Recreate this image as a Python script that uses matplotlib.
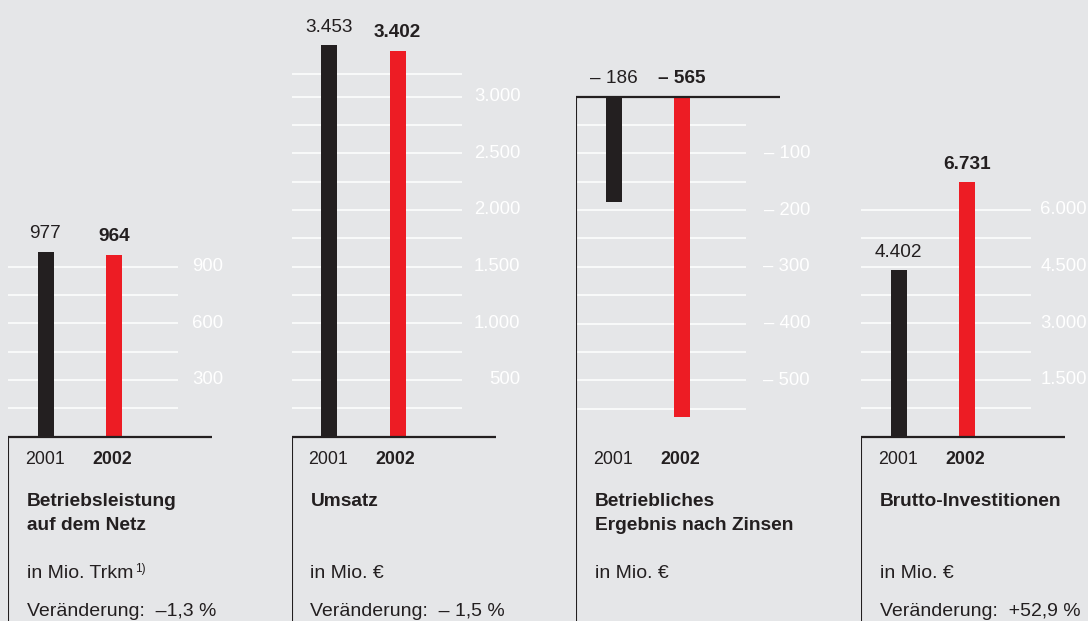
import matplotlib
matplotlib.use("Agg")
import matplotlib.pyplot as plt

plt.rcParams['font.family'] = ['Liberation Sans', 'DejaVu Sans']

# values per panel: 2001, 2002
years = ["2001", "2002"]
leistung = [977, 964]
umsatz = [3453, 3402]
ergebnis = [-186, -565]
investitionen = [4402, 6731]

titles = [["Betriebsleistung", "auf dem Netz"], ["Umsatz"],
          ["Betriebliches", "Ergebnis nach Zinsen"], ["Brutto-Investitionen"]]
units = ["in Mio. Trkm", "in Mio. €", "in Mio. €", "in Mio. €"]
changes = ["Veränderung:  –1,3 %", "Veränderung:  – 1,5 %", None, "Veränderung:  +52,9 %"]

# white scale labels and finer grid steps
tick_labels = [[300, 600, 900], [500, 1000, 1500, 2000, 2500, 3000],
               [-100, -200, -300, -400, -500], [1500, 3000, 4500, 6000]]
grid_lines = [[150, 300, 450, 600, 750, 900],
              [250, 500, 750, 1000, 1250, 1500, 1750, 2000, 2250, 2500, 2750, 3000, 3200],
              [-50, -100, -150, -200, -250, -300, -350, -400, -450, -500, -550],
              [750, 1500, 2250, 3000, 3750, 4500, 5250, 6000]]

W, H = 1088, 621
BG = "#e5e6e8"
DARK = "#231f20"
RED = "#ed1c24"

fig = plt.figure(figsize=(W / 100, H / 100), dpi=100, facecolor=BG)


def fmt(v):
    s = f"{abs(v):,}".replace(",", ".")
    return ("– " + s) if v < 0 else s


def fx(px):
    return px / W


def fy(py):
    return 1 - py / H


panels = [leistung, umsatz, ergebnis, investitionen]
x0s = [8, 291.5, 576, 861]
steps = [300, 500, 100, 1500]          # value per 56.7 px
zeros = [436.7, 436.7, 96.7, 436.7]    # y pixel of the zero line
label_right = [215, 229, 234, 226]

xunit = 68.5                           # px between the two bars
for i, vals in enumerate(panels):
    x0 = x0s[i]
    ppu = 56.7 / steps[i]
    ax = fig.add_axes([fx(x0), 0, 285 / W, 1])
    ax.set_facecolor("none")
    ax.axis("off")
    ax.set_xlim(-37.5 / xunit, (285 - 37.5) / xunit)
    ybot = -(H - zeros[i]) / ppu
    ax.set_ylim(ybot, zeros[i] / ppu)

    def rel(px):
        return (px - 37.5) / xunit

    ax.hlines(grid_lines[i], rel(-1), rel(170), color="white", lw=1.1, zorder=1)
    for t in tick_labels[i]:
        ax.text(rel(label_right[i]), t, fmt(t), color="white", fontsize=13.3,
                ha="right", va="center")

    ax.bar([0, 1], vals, width=16 / xunit, color=[DARK, RED], zorder=2)
    for k, v in enumerate(vals):
        ax.annotate(fmt(v), (k, max(v, 0)), xytext=(0, 13), textcoords="offset points",
                    ha="center", va="center", fontsize=13.7, color=DARK,
                    fontweight="bold" if k == 1 else "normal")

    ax.plot([rel(0), rel(204)], [0, 0], color=DARK, lw=1.6, solid_capstyle="butt", zorder=3)
    ax.plot([rel(0), rel(0)], [ybot, 0], color=DARK, lw=1.5, solid_capstyle="butt", zorder=3)

    # text block under the chart
    fig.text(fx(x0 + 17), fy(460), years[0], fontsize=12.8, color=DARK, va="center")
    fig.text(fx(x0 + 84), fy(460), years[1], fontsize=12.8, color=DARK, va="center",
             fontweight="bold")
    for j, line in enumerate(titles[i]):
        fig.text(fx(x0 + 19), fy(501 + 24 * j), line, fontsize=13.8, color=DARK,
                 va="center", fontweight="bold")
    u = fig.text(fx(x0 + 19), fy(573), units[i], fontsize=14, color=DARK, va="center")
    if i == 0:
        ax.annotate("1)", (1, 0.75), xycoords=u, xytext=(1.5, 0), textcoords="offset points",
                    fontsize=8.5, color=DARK, va="center", ha="left")
    if changes[i]:
        fig.text(fx(x0 + 19), fy(612), changes[i], fontsize=14, color=DARK, va="center")

fig.savefig("out.png", dpi=100, facecolor=BG)
